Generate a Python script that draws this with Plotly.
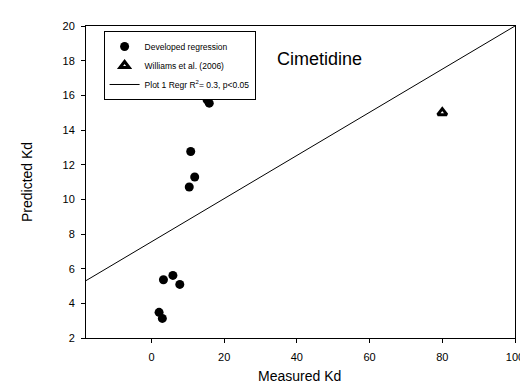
import plotly.graph_objects as go

# Data
dev_x = [15.3, 15.9, 10.8, 11.9, 10.4, 3.3, 5.9, 7.8, 2.1, 3.0]
dev_y = [15.74, 15.55, 12.76, 11.29, 10.71, 5.36, 5.61, 5.09, 3.48, 3.13]
will_x = [80.0]
will_y = [15.0]
reg_intercept = 7.55
reg_slope = 0.1245
x_range = [-18, 100]
y_range = [2, 20]
x_ticks = [0, 20, 40, 60, 80, 100]
y_ticks = [2, 4, 6, 8, 10, 12, 14, 16, 18, 20]

FONT = "Liberation Sans, Arial, sans-serif"

reg_x = [x_range[0], x_range[1]]
reg_y = [reg_intercept + reg_slope * v for v in reg_x]

fig = go.Figure()
fig.add_trace(go.Scatter(
    x=dev_x, y=dev_y, mode="markers", name="Developed regression",
    marker=dict(symbol="circle", size=9, color="black"),
))
fig.add_trace(go.Scatter(
    x=will_x, y=will_y, mode="markers", name="Williams et al. (2006)",
    marker=dict(symbol="triangle-up", size=8, color="white",
                line=dict(color="black", width=3)),
))
fig.add_trace(go.Scatter(
    x=reg_x, y=reg_y, mode="lines",
    name="Plot 1 Regr R<sup>2</sup>= 0.3, p&lt;0.05",
    line=dict(color="black", width=1),
))

axis_common = dict(
    showgrid=False, zeroline=False, showline=True, linecolor="black",
    linewidth=1, mirror=True, ticks="outside", ticklen=4, tickcolor="black",
    tickfont=dict(family=FONT, size=11, color="black"),
)
fig.update_layout(
    width=528, height=385,
    margin=dict(l=78, r=12, t=16, b=55),
    paper_bgcolor="white", plot_bgcolor="white",
    font=dict(family=FONT, color="black"),
    xaxis=dict(range=x_range, tickvals=x_ticks, ticklabelstandoff=5,
               **axis_common),
    yaxis=dict(range=y_range, tickvals=y_ticks, ticklabelstandoff=4,
               **axis_common),
    legend=dict(
        x=0.041, y=0.984, xanchor="left", yanchor="top",
        bordercolor="black", borderwidth=1, bgcolor="white",
        font=dict(family=FONT, size=8.5, color="black"),
        tracegroupgap=0, itemwidth=30,
    ),
    annotations=[
        dict(text="Cimetidine", xref="paper", yref="paper", x=0.4406, y=0.8946,
             xanchor="left", yanchor="middle", showarrow=False,
             font=dict(family=FONT, size=18, color="black")),
        dict(text="Measured Kd", xref="paper", yref="paper", x=0.497, y=0,
             yshift=-38, xanchor="center", yanchor="middle", showarrow=False,
             font=dict(family=FONT, size=14, color="black")),
        dict(text="Predicted Kd", xref="paper", yref="paper", x=0, y=0.5,
             xshift=-59, textangle=-90, xanchor="center", yanchor="middle",
             showarrow=False,
             font=dict(family=FONT, size=14, color="black")),
    ],
)
fig.write_html("out.html")
